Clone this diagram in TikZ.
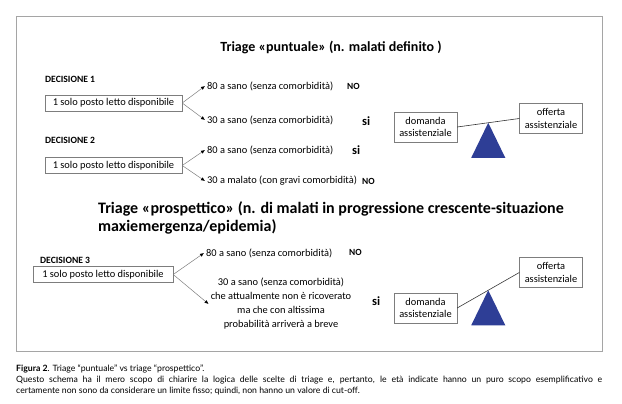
\documentclass[tikz,border=0pt]{standalone}
\usepackage{fontspec}
\setmainfont{Carlito}
\newfontfamily\capfont{Lato}
\usepackage{tikz}
\usetikzlibrary{arrows.meta,positioning,calc}
\definecolor{scalablue}{RGB}{46,62,150}
\definecolor{framegray}{RGB}{165,165,165}
\definecolor{linegray}{RGB}{125,125,125}
\tikzset{
  title/.style   ={font=\fontsize{14}{18}\selectfont\bfseries,inner sep=0pt},
  decis/.style   ={font=\fontsize{9.6}{11}\selectfont\bfseries,anchor=west,inner sep=0pt},
  bed/.style     ={draw=linegray,font=\fontsize{10.4}{12.5}\selectfont,minimum width=137pt,minimum height=16pt,inner xsep=3pt,inner ysep=0pt},
  patient/.style ={font=\fontsize{10.4}{14}\selectfont,anchor=west,inner sep=2pt},
  verdict/.style ={font=\fontsize{9.4}{11}\selectfont\bfseries,anchor=west,inner sep=0pt},
  bigsi/.style   ={font=\fontsize{12.5}{14}\selectfont\bfseries,anchor=west,inner sep=0pt},
  plate/.style   ={draw=linegray,font=\fontsize{10.4}{12.7}\selectfont,align=center,minimum width=63pt,minimum height=30pt,inner sep=1pt},
  choice/.style  ={linegray,line width=0.5pt,-{Latex[length=4pt,width=3.5pt,color=black]}},
  beam/.style    ={black!80,line width=0.6pt},
  fulcrum/.style ={fill=scalablue},
  caption/.style ={font=\capfont\fontsize{8.7}{11}\selectfont,anchor=west,inner sep=0pt},
}
\begin{document}
\begin{tikzpicture}[x=1pt,y=-1pt]
  \useasboundingbox (0,0) rectangle (622,404);
  \draw[framegray,line width=1pt] (16,17) rectangle (602,351);
  \node[title] (t1) at (331,47) {Triage «puntuale» (n. malati definito )};

  \node[decis] (d1) at (45,79) {DECISIONE 1};
  \node[bed] (b1) at (113.5,103) {1 solo posto letto disponibile};
  \node[patient] (p1) at (205,86) {80 a sano (senza comorbidità)};
  \node[patient] (p2) at (205,120) {30 a sano (senza comorbidità)};
  \node[verdict] (v1) at (347,86) {NO};
  \node[bigsi] (v2) at (362,121) {si};
  \draw[choice] (b1.east) -- (p1.west);
  \draw[choice] (b1.east) -- (p2.west);

  \node[decis] (d2) at (45,140) {DECISIONE 2};
  \node[bed] (b2) at (113.5,165.5) {1 solo posto letto disponibile};
  \node[patient] (p3) at (205,150) {80 a sano (senza comorbidità)};
  \node[patient] (p4) at (205,181) {30 a malato (con gravi comorbidità)};
  \node[bigsi] (v3) at (352,150) {si};
  \node[verdict] (v4) at (362,181) {NO};
  \draw[choice] (b2.east) -- (p3.west);
  \draw[choice] (b2.east) -- (p4.west);

  \node[title,font=\fontsize{16}{18.5}\selectfont\bfseries,anchor=north west,align=left] (t2) at (98,201)
    {Triage «prospettico» (n. di malati in progressione crescente-situazione\\maxiemergenza/epidemia)};

  \node[decis] (d3) at (40,260) {DECISIONE 3};
  \node[bed,minimum width=140pt] (b3) at (103,274.5) {1 solo posto letto disponibile};
  \node[patient] (p5) at (204,253) {80 a sano (senza comorbidità)};
  \node[patient,align=center,anchor=center] (p6) at (281,304)
    {30 a sano (senza comorbidità)\\che attualmente non è ricoverato\\ma che con altissima\\probabilità arriverà a breve};
  \node[verdict] (v5) at (349,252) {NO};
  \node[bigsi] (v6) at (372,301) {si};
  \draw[choice] (b3.east) -- (p5.west);
  \draw[choice] (b3.east) -- (p6.west);

  \node[plate] (dm1) at (425.5,127) {domanda\\assistenziale};
  \node[plate] (of1) at (551,118.5) {offerta\\assistenziale};
  \draw[beam] (dm1.east) -- (of1.west);
  \coordinate (piv1) at ($(dm1.east)!0.5!(of1.west)$);
  \fill[fulcrum] (piv1) -- ++(17,35) -- ++(-34,0) -- cycle;

  \node[plate] (dm2) at (425.5,308) {domanda\\assistenziale};
  \node[plate] (of2) at (551,272.5) {offerta\\assistenziale};
  \draw[beam] (dm2.east) -- (of2.west);
  \coordinate (piv2) at ($(dm2.east)!0.5!(of2.west)$);
  \fill[fulcrum] (piv2) -- ++(17,35) -- ++(-34,0) -- cycle;

  \node[caption] (c1) at (16,369) {\textbf{Figura 2}. Triage “puntuale” vs triage “prospettico”.};
  \node[caption] (c2) at (16,380) {\makebox[586pt][s]{Questo schema ha il mero scopo di chiarire la logica delle scelte di triage e, pertanto, le età indicate hanno un puro scopo esemplificativo e}};
  \node[caption] (c3) at (16,391) {certamente non sono da considerare un limite fisso; quindi, non hanno un valore di cut-off.};
\end{tikzpicture}
\end{document}
